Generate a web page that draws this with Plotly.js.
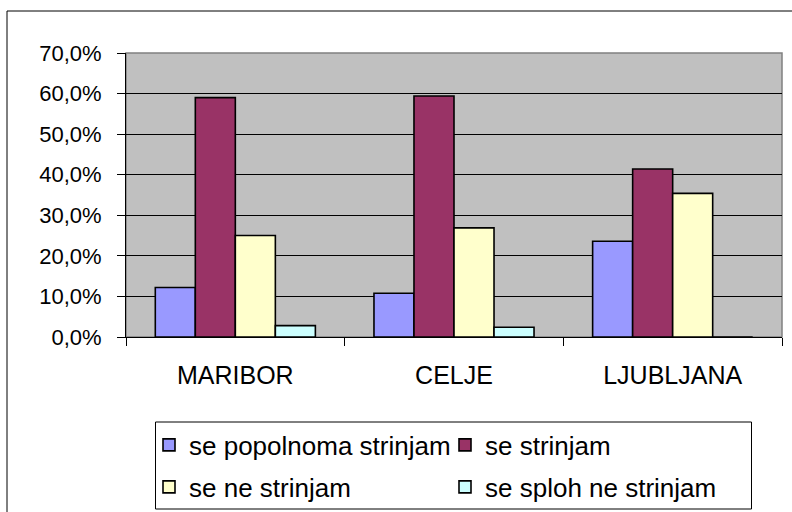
<!DOCTYPE html>
<html>
<head>
<meta charset="utf-8">
<script src="https://cdn.plot.ly/plotly-3.0.1.min.js"></script>
<style>html,body{margin:0;padding:0;background:#fff;}#chart{width:792px;height:512px;}</style>
</head>
<body>
<div id="chart"></div>
<script>
var categories = ["MARIBOR", "CELJE", "LJUBLJANA"];
var seriesNames = ["se popolnoma strinjam", "se strinjam", "se ne strinjam", "se sploh ne strinjam"];
var popolnomaStrinjam = [0.122, 0.108, 0.236];
var strinjam = [0.590, 0.594, 0.414];
var neStrinjam = [0.250, 0.269, 0.354];
var splohNeStrinjam = [0.028, 0.024, 0.0];
var seriesColors = ["#9999FF", "#993366", "#FFFFCC", "#CCFFFF"];
var yTickVals = [0, 0.1, 0.2, 0.3, 0.4, 0.5, 0.6, 0.7];

var W = 792, H = 512;
var L = 126, R = 782, T = 53, B = 337;
function px(x) { return (x - L) / (R - L); }
function py(y) { return (B - y) / (B - T); }

var values = [popolnomaStrinjam, strinjam, neStrinjam, splohNeStrinjam];
var legendIds = ["legend", "legend", "legend2", "legend2"];
var traces = values.map(function (v, i) {
  return {
    type: "bar",
    x: categories,
    y: v,
    name: seriesNames[i],
    legend: legendIds[i],
    marker: { color: seriesColors[i], line: { color: "#000000", width: 1.6 } },
    hoverinfo: "none"
  };
});

var legendFont = { family: "Liberation Sans, Arial, sans-serif", size: 26, color: "#000" };
var layout = {
  width: W, height: H,
  margin: { l: L, r: W - R, t: T, b: H - B, pad: 0, autoexpand: false },
  paper_bgcolor: "#ffffff",
  plot_bgcolor: "#C0C0C0",
  separators: ",.",
  barmode: "group",
  bargap: 0.268,
  bargroupgap: 0,
  showlegend: true,
  font: { family: "Liberation Sans, Arial, sans-serif", color: "#000" },
  xaxis: {
    type: "category",
    showgrid: false,
    showline: true, linecolor: "#000", linewidth: 1,
    ticks: "outside", tickson: "boundaries", ticklen: 8, tickcolor: "#000", tickwidth: 1,
    ticklabelstandoff: 16,
    tickfont: { size: 25, color: "#000" },
    automargin: false,
    fixedrange: true
  },
  yaxis: {
    range: [0, 0.7],
    tickvals: yTickVals,
    tickformat: ".1%",
    showgrid: true, gridcolor: "#000", gridwidth: 1,
    zeroline: false,
    showline: true, linecolor: "#000", linewidth: 1,
    ticks: "outside", ticklen: 8, tickcolor: "#000", tickwidth: 1,
    ticklabelstandoff: 11,
    tickfont: { size: 22, color: "#000" },
    automargin: false,
    fixedrange: true
  },
  legend: {
    orientation: "h", x: px(149), y: py(445), xanchor: "left", yanchor: "middle",
    bgcolor: "rgba(0,0,0,0)", borderwidth: 0, font: legendFont,
    entrywidth: 251, entrywidthmode: "pixels", traceorder: "normal"
  },
  legend2: {
    orientation: "h", x: px(149), y: py(487), xanchor: "left", yanchor: "middle",
    bgcolor: "rgba(0,0,0,0)", borderwidth: 0, font: legendFont,
    entrywidth: 251, entrywidthmode: "pixels", traceorder: "normal"
  },
  shapes: [
    { type: "rect", xref: "paper", yref: "paper", x0: 0, x1: 1, y0: 0, y1: 1,
      line: { color: "#808080", width: 1.5 }, fillcolor: "rgba(0,0,0,0)", layer: "below" },
    { type: "rect", xref: "paper", yref: "paper", x0: px(7), x1: px(810), y0: py(11), y1: py(530),
      line: { color: "#000", width: 1 }, fillcolor: "rgba(0,0,0,0)", layer: "below" },
    { type: "rect", xref: "paper", yref: "paper", x0: px(155.5), x1: px(751.5), y0: py(422), y1: py(509),
      line: { color: "#000", width: 1 }, fillcolor: "rgba(0,0,0,0)", layer: "below" }
  ]
};

Plotly.newPlot("chart", traces, layout, { staticPlot: true, displayModeBar: false });
</script>
</body>
</html>
